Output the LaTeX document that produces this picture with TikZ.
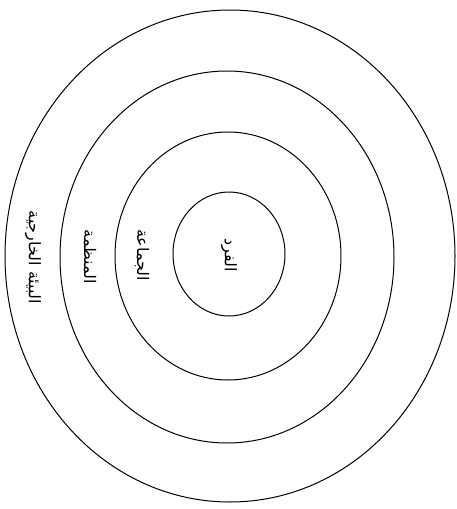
\documentclass[tikz,border=0pt]{standalone}
\usepackage{fontspec}
\newfontfamily\arabicfont[Script=Arabic]{DejaVu Sans}
\TeXXeTstate=1
\begin{document}
\begin{tikzpicture}[x=1pt,y=-1pt,
  ring/.style={draw=black,line width=1pt},
  lbl/.style={font=\arabicfont\fontsize{16}{18}\selectfont,rotate=-90,inner sep=0pt}]
\useasboundingbox (0,0) rectangle (457,509);
\draw[ring] (230,256) ellipse [x radius=225,y radius=246];
\draw[ring] (227,257) ellipse [x radius=167,y radius=186];
\draw[ring] (228,256) ellipse [x radius=113,y radius=124];
\draw[ring] (229,254) ellipse [x radius=56,y radius=62];
\node[lbl] (fard) at (229,255) {\beginR الفرد\endR};
\node[lbl] (jamaa) at (142,255) {\beginR الجماعة\endR};
\node[lbl] (munazzama) at (90,257) {\beginR المنظمة\endR};
\node[lbl] (biia) at (33,257) {\beginR البيئة الخارجية\endR};
\end{tikzpicture}
\end{document}
